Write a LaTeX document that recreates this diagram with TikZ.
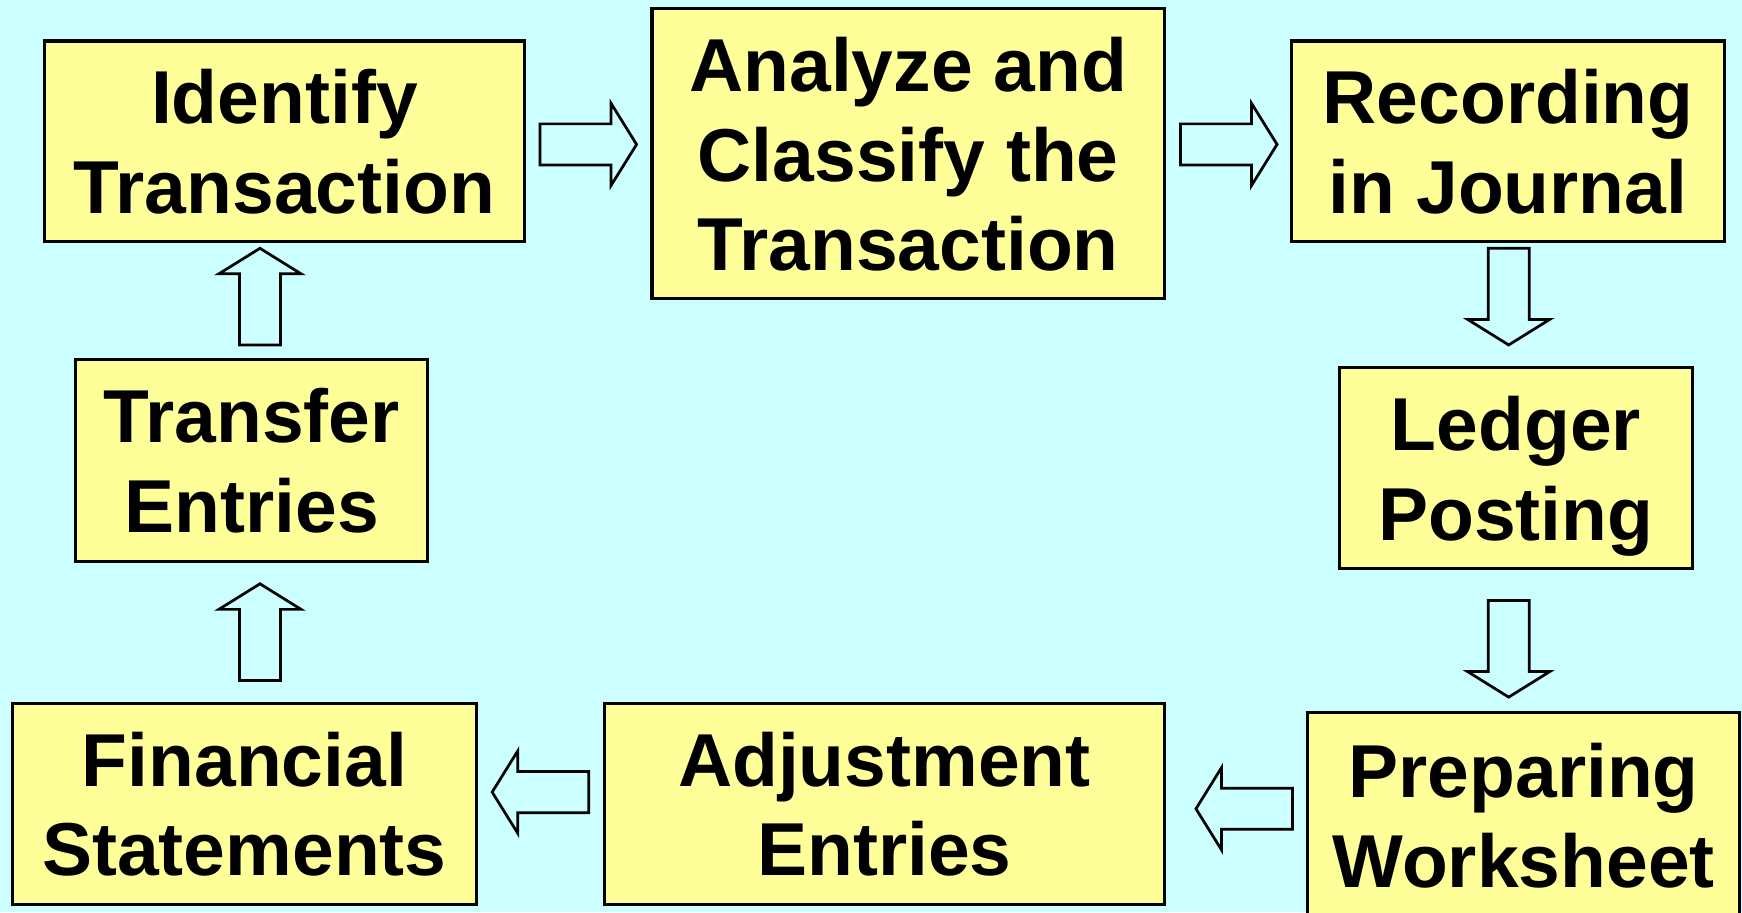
\documentclass[tikz,border=0pt]{standalone}
\usepackage{fontspec}
\setmainfont{Liberation Sans}
\definecolor{bgcol}{HTML}{CCFFFF}
\definecolor{boxcol}{HTML}{FFFF99}
\tikzset{
  stepbox/.style={draw=black, line width=0.8pt, fill=boxcol, rectangle, align=center,
    inner sep=0pt, text depth=0pt,
    font=\fontsize{19.2pt}{23pt}\selectfont\bfseries},
  barrow/.style={draw=black, line width=0.7pt, fill=bgcol, line join=miter}
}
\newcommand{\blockarr}[2]{%
  \draw[barrow, shift={(#1)}, rotate=#2] (-43.5,-18.5) -- (20.5,-18.5) -- (20.5,-37) -- (43.5,0) -- (20.5,37) -- (20.5,18.5) -- (-43.5,18.5) -- cycle;}
\begin{document}
\begin{tikzpicture}[x=0.01cm, y=-0.01cm]
\fill[bgcol] (0,0) rectangle (1568,821);
\useasboundingbox (0,0) rectangle (1568,821);
\clip (0,0) rectangle (1568,821);
\node[stepbox, minimum width=4.32cm, minimum height=1.80cm] (id) at (256,127) {Identify\\Transaction};
\node[stepbox, minimum width=4.61cm, minimum height=2.61cm] (an) at (817.5,138.5) {Analyze and\\Classify the\\Transaction};
\node[stepbox, minimum width=3.89cm, minimum height=1.80cm] (rec) at (1357.5,127) {Recording\\in Journal};
\node[stepbox, minimum width=3.17cm, minimum height=1.81cm] (led) at (1364.5,421.5) {Ledger\\Posting};
\node[stepbox, minimum width=3.89cm, minimum height=1.86cm] (prep) at (1371.5,734) {Preparing\\Worksheet};
\node[stepbox, minimum width=5.04cm, minimum height=1.81cm] (adj) at (796,723.5) {Adjustment\\Entries};
\node[stepbox, minimum width=4.18cm, minimum height=1.81cm] (fin) at (220,723.5) {Financial\\Statements};
\node[stepbox, minimum width=3.17cm, minimum height=1.81cm] (tra) at (226.5,414.5) {Transfer\\Entries};
\coordinate (a1) at (529.5,130);
\coordinate (a2) at (1106,130);
\coordinate (a3) at (1358,267);
\coordinate (a4) at (1358,584);
\coordinate (a5) at (1120,728);
\coordinate (a6) at (486.5,713);
\coordinate (a7) at (234,569);
\coordinate (a8) at (234,267);
\blockarr{a1}{0}
\blockarr{a2}{0}
\blockarr{a3}{-90}
\blockarr{a4}{-90}
\blockarr{a5}{180}
\blockarr{a6}{180}
\blockarr{a7}{90}
\blockarr{a8}{90}
\end{tikzpicture}
\end{document}
